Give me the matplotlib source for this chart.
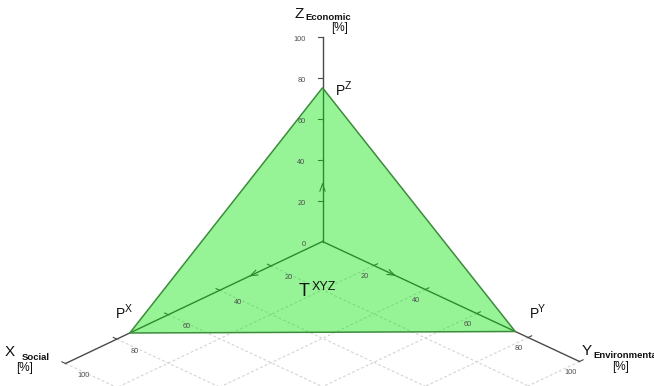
import numpy as np
import matplotlib
matplotlib.use("Agg")
import matplotlib.pyplot as plt
from matplotlib.patches import Polygon

plt.rcParams['font.family'] = ['Liberation Sans', 'DejaVu Sans']

# ---- data ----
axis_names = ["X", "Y", "Z"]
axis_subtitles = ["Social", "Environmental", "Economic"]
tick_values = [0, 20, 40, 60, 80, 100]
grid_values = [20, 40, 60, 80, 100]
point_values = [75, 75, 75]          # P^X, P^Y, P^Z in percent
point_labels = ["X", "Y", "Z"]
arrow_position = 28

# ---- oblique projection of the (x, y, z) frame onto the page (pixels) ----
ORIGIN = np.array([322.5, 241.5])
EX = np.array([-2.57, 1.22])
EY = np.array([2.57, 1.20])
EZ = np.array([0.0, -2.05])


def proj(x, y, z):
    return ORIGIN + x * EX + y * EY + z * EZ


W, H = 654, 386
fig = plt.figure(figsize=(W / 100, H / 100), dpi=100)
ax = fig.add_axes([0, 0, 1, 1])
ax.set_xlim(0, W)
ax.set_ylim(H, 0)
ax.axis("off")

# floor grid (XY plane)
grid_kw = dict(color="#d4d4d4", lw=0.8, ls=(0, (2.5, 2)), zorder=1)
for g in grid_values:
    a, b = proj(g, 0, 0), proj(g, 130, 0)
    ax.plot([a[0], b[0]], [a[1], b[1]], **grid_kw)
    a, b = proj(0, g, 0), proj(130, g, 0)
    ax.plot([a[0], b[0]], [a[1], b[1]], **grid_kw)

axis_color = "#4a4a4a"
# axes lines
for i in range(3):
    v = [0, 0, 0]
    v[i] = 100
    a, b = proj(0, 0, 0), proj(*v)
    ax.plot([a[0], b[0]], [a[1], b[1]], color=axis_color, lw=1.0, zorder=2)


def unit(v):
    v = np.asarray(v, float)
    return v / np.linalg.norm(v)


# tick marks and labels
tick_kw = dict(fontsize=5.3, color="#505050", zorder=6)
for t in tick_values:
    # X axis
    p = proj(t, 0, 0)
    if t > 0:
        q = p + unit(-EY) * 4
        ax.plot([p[0], q[0]], [p[1], q[1]], color=axis_color, lw=0.8, zorder=2)
        ax.text(p[0] + 18, p[1] + 12, str(t), ha="center", va="center", **tick_kw)
    # Y axis
    p = proj(0, t, 0)
    if t > 0:
        q = p + unit(-EX) * 4
        ax.plot([p[0], q[0]], [p[1], q[1]], color=axis_color, lw=0.8, zorder=2)
        ax.text(p[0] - 9, p[1] + 11, str(t), ha="center", va="center", **tick_kw)
    # Z axis
    p = proj(0, 0, t)
    if t > 0:
        ax.plot([p[0] - 4.5, p[0]], [p[1], p[1]], color=axis_color, lw=0.8, zorder=2)
    ax.text(p[0] - 17, p[1] + 3, str(t), ha="right", va="center", **tick_kw)

# open arrow heads along each axis
for i in range(3):
    v = [0, 0, 0]
    v[i] = arrow_position
    tip = proj(*v)
    d = unit(tip - ORIGIN)
    n = np.array([-d[1], d[0]])
    for s in (1, -1):
        w = tip - d * 7 + n * s * 2.6
        ax.plot([tip[0], w[0]], [tip[1], w[1]], color=axis_color, lw=0.8, zorder=2)

# triangle through the three axis points
px = proj(point_values[0], 0, 0)
py = proj(0, point_values[1], 0)
pz = proj(0, 0, point_values[2])
tri = np.array([px, py, pz])
ax.add_patch(Polygon(tri, closed=True, facecolor=(0.0, 0.90, 0.0), alpha=0.41,
                     edgecolor="none", zorder=4))
ax.add_patch(Polygon(tri, closed=True, facecolor="none", edgecolor="#3c8c3c",
                     lw=1.1, zorder=5))

# vertex labels
lab_kw = dict(color="#111111", zorder=7)
pos_P = {"X": (px[0] - 9, px[1] - 19), "Y": (py[0] + 19, py[1] - 18),
         "Z": (pz[0] + 18, pz[1] + 3)}
for name in point_labels:
    x0, y0 = pos_P[name]
    ax.text(x0, y0, "P", fontsize=10, ha="center", va="center", **lab_kw)
    ax.text(x0 + 4, y0 - 5, name, fontsize=7.5, ha="left", va="center", **lab_kw)

# centre label
tx, ty = 304, 291
ax.text(tx, ty, "T", fontsize=13, ha="center", va="center", **lab_kw)
ax.text(tx + 7.5, ty - 4, "XYZ", fontsize=9, ha="left", va="center", **lab_kw)

# axis titles: letter, bold subtitle, unit
title_pos = {"X": (10, 352), "Y": (587, 351), "Z": (299, 14)}
sub_pos = {"X": (22, 357.5), "Y": (593, 355.5), "Z": (305, 17.5)}
for name, sub in zip(axis_names, axis_subtitles):
    x0, y0 = title_pos[name]
    ax.text(x0, y0, name, fontsize=11, ha="center", va="center", **lab_kw)
    sx, sy = sub_pos[name]
    ax.text(sx, sy, sub, fontsize=6.8, fontweight="bold", ha="left",
            va="center", **lab_kw)
brk = {"X": (25, 368), "Y": (621, 367), "Z": (340, 28)}
for name in axis_names:
    x0, y0 = brk[name]
    ax.text(x0, y0, "[%]", fontsize=8.5, ha="center", va="center", **lab_kw)

fig.savefig("out.png", dpi=100)
